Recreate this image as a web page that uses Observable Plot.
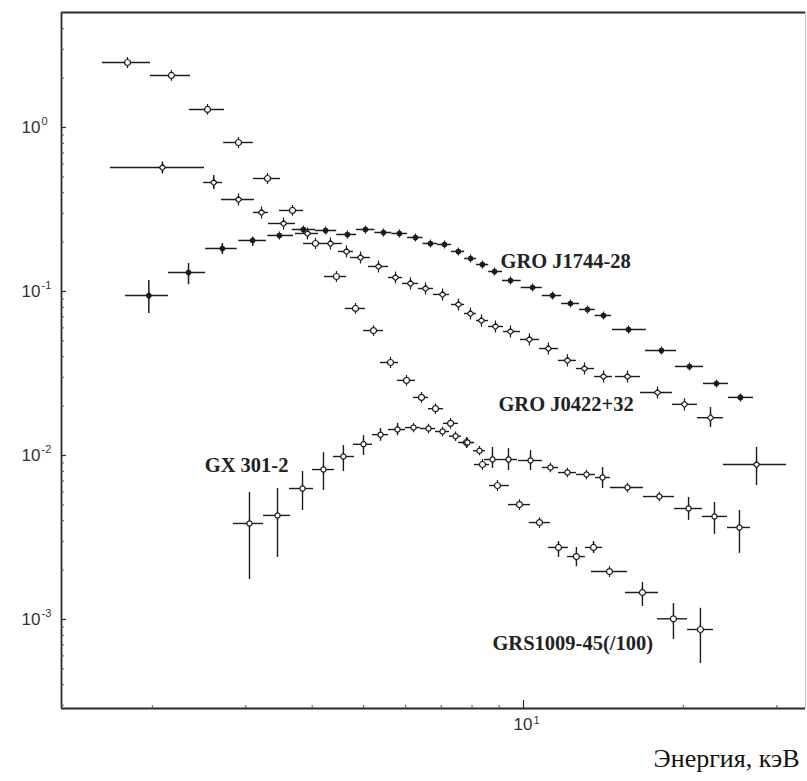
<!DOCTYPE html>
<html>
<head>
<meta charset="utf-8">
<script src="https://cdn.jsdelivr.net/npm/d3@7"></script>
<script src="https://cdn.jsdelivr.net/npm/@observablehq/plot@0.6"></script>
<style>
  html, body { margin: 0; padding: 0; background: #fff; overflow: hidden; }
  #chart svg { display: block; }
</style>
</head>
<body>
<div id="chart"></div>
<script>
// ---------- axis settings ----------
const xDomain = [1.349, 33.97];
const yDomain = [2.866e-4, 5.025];
const xMajorTicks = [10];
const xMajorExp = ["1"];
const xMinorTicks = [2, 3, 4, 5, 6, 7, 8, 9, 20, 30];
const yMajorTicks = [1, 0.1, 0.01, 0.001];
const yMajorExp = ["0", "-1", "-2", "-3"];
const yMinorTicks = [2, 3, 4, 5, 2e-1, 3e-1, 4e-1, 5e-1, 6e-1, 7e-1, 8e-1, 9e-1,
  2e-2, 3e-2, 4e-2, 5e-2, 6e-2, 7e-2, 8e-2, 9e-2, 2e-3, 3e-3, 4e-3, 5e-3, 6e-3, 7e-3, 8e-3, 9e-3,
  3e-4, 4e-4, 5e-4, 6e-4, 7e-4, 8e-4, 9e-4];
const xTitle = "Энергия, кэВ";

// ---------- series labels ----------
const labelNames = ["GRO J1744-28", "GRO J0422+32", "GX 301-2", "GRS1009-45(/100)"];
const labelE = [9.05, 8.97, 2.51, 8.74];
const labelF = [0.152, 0.0205, 0.00869, 0.000714];

// ---------- GRO J1744-28 (filled) ----------
const j1744E = [1.97, 2.34, 2.71, 3.09, 3.47, 3.85, 4.24, 4.66, 5.04, 5.45, 5.84, 6.26, 6.68, 7.10, 7.54, 7.95, 8.37, 8.82, 9.45, 10.4, 11.34, 12.26, 13.2, 14.15, 15.77, 18.19, 20.54, 23.09, 25.62];
const j1744F = [0.0945, 0.1306, 0.1829, 0.2047, 0.2196, 0.2388, 0.2355, 0.2227, 0.2388, 0.229, 0.2258, 0.2135, 0.1962, 0.1935, 0.1754, 0.1589, 0.1461, 0.1324, 0.1167, 0.1058, 0.0945, 0.0845, 0.0777, 0.0714, 0.0587, 0.0437, 0.0349, 0.0275, 0.0226];
const j1744ELo = [1.78, 2.145, 2.52, 2.91, 3.30, 3.67, 4.06, 4.45, 4.85, 5.25, 5.65, 6.05, 6.47, 6.89, 7.32, 7.75, 8.16, 8.60, 9.13, 9.9, 10.85, 11.8, 12.75, 13.65, 14.71, 16.97, 19.33, 21.83, 24.32];
const j1744EHi = [2.145, 2.52, 2.89, 3.28, 3.69, 4.06, 4.45, 4.85, 5.25, 5.65, 6.05, 6.47, 6.89, 7.32, 7.75, 8.16, 8.60, 9.13, 9.9, 10.85, 11.8, 12.75, 13.65, 14.65, 17.04, 19.42, 21.83, 24.32, 27.11];
const j1744FLo = [0.0734, 0.110, 0.168, 0.188, null, null, null, null, null, null, null, null, null, null, null, null, null, null, null, null, null, null, null, null, null, null, null, null, null];
const j1744FHi = [0.1167, 0.148, 0.196, 0.2135, null, null, null, null, null, null, null, null, null, null, null, null, null, null, null, null, null, null, null, null, null, null, null, null, null];

// ---------- GRO J0422+32 (open diamonds) ----------
const j0422E = [2.09, 2.61, 2.906, 3.211, 3.533, 3.92, 4.33, 4.642, 4.933, 5.333, 5.741, 6.127, 6.539, 7.04, 7.543, 7.946, 8.335, 8.856, 9.452, 10.26, 11.14, 12.10, 13.03, 14.15, 15.70, 17.88, 20.10, 22.50, 27.47];
const j0422F = [0.5703, 0.4620, 0.3639, 0.3032, 0.2598, 0.2258, 0.1962, 0.1754, 0.1611, 0.1421, 0.1217, 0.1120, 0.1043, 0.0959, 0.0833, 0.0734, 0.0665, 0.0612, 0.0570, 0.0510, 0.0449, 0.0380, 0.0339, 0.0303, 0.0303, 0.0242, 0.0205, 0.0170, 0.00881];
const j0422ELo = [1.668, 2.497, 2.700, 3.101, 3.310, 3.721, 4.183, 4.483, 4.723, 5.107, 5.570, 5.918, 6.343, 6.769, 7.320, 7.742, 8.156, 8.595, 9.170, 9.871, 10.72, 11.64, 12.58, 13.61, 14.90, 16.61, 19.08, 21.27, 23.80];
const j0422EHi = [2.508, 2.712, 3.115, 3.310, 3.721, 4.111, 4.560, 4.785, 5.151, 5.570, 5.918, 6.343, 6.769, 7.257, 7.742, 8.156, 8.595, 9.170, 9.871, 10.72, 11.64, 12.58, 13.61, 14.71, 16.61, 19.08, 21.27, 23.80, 31.28];
const j0422FLo = [0.5242, 0.4187, null, null, null, null, null, null, null, null, null, null, null, null, null, null, null, null, null, null, null, null, null, null, null, null, null, 0.0148, 0.00656];
const j0422FHi = [0.6116, 0.5097, null, null, null, null, null, null, null, null, null, null, null, null, null, null, null, null, null, null, null, null, null, null, null, null, null, 0.0196, 0.0112];

// ---------- GRS1009-45 (/100) (open circles) ----------
const grsE = [1.796, 2.173, 2.541, 2.906, 3.296, 3.673, 4.058, 4.444, 4.827, 5.219, 5.618, 6.022, 6.426, 6.828, 7.289, 7.810, 8.371, 8.933, 9.828, 10.72, 11.64, 12.58, 13.55, 14.52, 16.75, 19.16, 21.54];
const grsF = [2.490, 2.076, 1.288, 0.8100, 0.4887, 0.3119, 0.1962, 0.1234, 0.0788, 0.0578, 0.0369, 0.0287, 0.0226, 0.0193, 0.0157, 0.0120, 0.00881, 0.00656, 0.00502, 0.00390, 0.00275, 0.00242, 0.00275, 0.00196, 0.00146, 0.00101, 0.000869];
const grsELo = [1.611, 1.984, 2.350, 2.724, 3.101, 3.472, 3.853, 4.219, 4.619, 4.997, 5.380, 5.792, 6.208, 6.624, 7.071, 7.543, 8.085, 8.632, 9.370, 10.26, 11.14, 12.10, 13.08, 13.43, 15.56, 17.88, 20.37];
const grsEHi = [1.984, 2.360, 2.735, 3.101, 3.487, 3.853, 4.183, 4.642, 5.041, 5.450, 5.817, 6.261, 6.624, 7.071, 7.543, 8.085, 8.632, 9.411, 10.31, 11.24, 12.15, 13.08, 14.09, 15.70, 17.96, 20.37, 22.80];
const grsFLo = [null, null, null, null, null, null, null, null, null, null, null, null, null, null, null, null, null, null, null, null, 0.00239, 0.00210, 0.00253, null, 0.00120, 0.000755, 0.000539];
const grsFHi = [null, null, null, null, null, null, null, null, null, null, null, null, null, null, null, null, null, null, null, null, 0.00299, 0.00275, 0.00299, null, 0.00168, 0.00125, 0.00117];

// ---------- GX 301-2 (open circles, crosses) ----------
const gxE = [3.048, 3.442, 3.836, 4.201, 4.580, 4.997, 5.380, 5.792, 6.208, 6.624, 7.040, 7.449, 7.843, 8.263, 8.742, 9.370, 10.31, 11.24, 12.10, 13.14, 14.09, 15.70, 18.03, 20.46, 22.89, 25.51];
const gxF = [0.00385, 0.00431, 0.00629, 0.00821, 0.00986, 0.0117, 0.0134, 0.0144, 0.0148, 0.0146, 0.0140, 0.0131, 0.0120, 0.0107, 0.00945, 0.00945, 0.00932, 0.00845, 0.00787, 0.00766, 0.00734, 0.00638, 0.00562, 0.00475, 0.00425, 0.00364];
const gxELo = [2.844, 3.239, 3.626, 4.005, 4.387, 4.785, 5.196, 5.570, 5.995, 6.399, 6.828, 7.257, 7.641, 8.051, 8.444, 9.050, 9.785, 10.86, 11.64, 12.58, 13.67, 14.58, 16.83, 19.25, 21.73, 24.22];
const gxEHi = [3.239, 3.642, 4.023, 4.406, 4.806, 5.196, 5.570, 5.995, 6.399, 6.828, 7.257, 7.641, 8.051, 8.481, 9.050, 9.743, 10.86, 11.64, 12.58, 13.67, 14.58, 16.83, 19.25, 21.73, 24.22, 26.76];
const gxFLo = [0.00175, 0.00239, 0.00462, 0.00612, 0.00798, 0.0100, 0.0122, 0.0132, null, null, null, null, null, null, 0.00833, 0.00810, 0.00810, null, null, null, 0.00629, null, null, 0.00402, 0.00330, 0.00253];
const gxFHi = [0.00595, 0.00629, 0.00798, 0.0104, 0.0115, 0.0132, 0.0146, 0.0157, null, null, null, null, null, null, 0.0112, 0.0110, 0.0107, null, null, null, 0.00845, null, null, 0.00555, 0.00517, 0.00462];

// ---------- helpers ----------
function rows(E, F, ELo, EHi, FLo, FHi) {
  return E.map((e, i) => ({e, f: F[i], lo: ELo[i], hi: EHi[i], flo: FLo[i], fhi: FHi[i]}));
}
const j1744 = rows(j1744E, j1744F, j1744ELo, j1744EHi, j1744FLo, j1744FHi);
const j0422 = rows(j0422E, j0422F, j0422ELo, j0422EHi, j0422FLo, j0422FHi);
const grs = rows(grsE, grsF, grsELo, grsEHi, grsFLo, grsFHi);
const gx = rows(gxE, gxF, gxELo, gxEHi, gxFLo, gxFHi);

const ink = "#1c1c1c";
const stubDiamond = {
  draw(ctx, size) {
    const r = Math.sqrt(size / Math.PI), s = r * 0.9;
    ctx.moveTo(0, -r); ctx.lineTo(r, 0); ctx.lineTo(0, r); ctx.lineTo(-r, 0); ctx.closePath();
    ctx.moveTo(0, -r); ctx.lineTo(0, -r - s);
    ctx.moveTo(0, r); ctx.lineTo(0, r + s);
  }
};
const stubCircle = {
  draw(ctx, size) {
    const r = Math.sqrt(size / Math.PI), s = r * 0.8;
    ctx.moveTo(r, 0); ctx.arc(0, 0, r, 0, 2 * Math.PI); ctx.closePath();
    ctx.moveTo(0, -r); ctx.lineTo(0, -r - s);
    ctx.moveTo(0, r); ctx.lineTo(0, r + s);
  }
};

function seriesMarks(data, symbol, r, fill, sw) {
  return [
    Plot.ruleY(data, {y: "f", x1: "lo", x2: "hi", stroke: ink, strokeWidth: sw}),
    Plot.ruleX(data.filter(d => d.flo != null), {x: "e", y1: "flo", y2: "fhi", stroke: ink, strokeWidth: sw}),
    Plot.dot(data, {x: "e", y: "f", symbol, r, fill, stroke: ink, strokeWidth: 1.2})
  ];
}

const frameH = 781 - 12 - 73;
const frameW = 807 - 61 - 2;

const chart = Plot.plot({
  width: 807,
  height: 781,
  marginLeft: 61,
  marginRight: 2,
  marginTop: 12,
  marginBottom: 73,
  style: {background: "#fff", fontFamily: "'Liberation Sans', Arial, sans-serif"},
  x: {type: "log", domain: xDomain, axis: null},
  y: {type: "log", domain: yDomain, axis: null},
  marks: [
    // frame
    Plot.ruleY([yDomain[1]], {stroke: "#2a2a2a", strokeWidth: 1.8}),
    Plot.ruleY([yDomain[0]], {stroke: "#2a2a2a", strokeWidth: 1.8}),
    Plot.ruleX([xDomain[0]], {stroke: "#2a2a2a", strokeWidth: 1.8}),
    Plot.ruleX([xDomain[1]], {stroke: "#bbbbbb", strokeWidth: 1}),
    // inward ticks
    Plot.ruleX(xMajorTicks, {x: d => d, insetTop: frameH - 8, stroke: "#2a2a2a", strokeWidth: 1.2}),
    Plot.ruleX(xMinorTicks, {x: d => d, insetTop: frameH - 3, stroke: "#555", strokeWidth: 1}),
    Plot.ruleY(yMajorTicks, {y: d => d, insetRight: frameW - 5, stroke: "#2a2a2a", strokeWidth: 1.2}),
    Plot.ruleY(yMinorTicks, {y: d => d, insetRight: frameW - 3, stroke: "#555", strokeWidth: 1}),
    // tick labels
    Plot.text(yMajorTicks, {y: d => d, frameAnchor: "left", text: () => "10", textAnchor: "end", dx: -21, fontSize: 17, fill: "#333"}),
    Plot.text(yMajorTicks, {y: d => d, frameAnchor: "left", text: (d, i) => yMajorExp[i], textAnchor: "start", dx: -20, dy: -6, fontSize: 11, fill: "#333"}),
    Plot.text(xMajorTicks, {x: d => d, frameAnchor: "bottom", text: () => "10", textAnchor: "end", dx: 9, dy: 21, fontSize: 17, fill: "#333"}),
    Plot.text(xMajorTicks, {x: d => d, frameAnchor: "bottom", text: (d, i) => xMajorExp[i], textAnchor: "start", dx: 10, dy: 15, fontSize: 11, fill: "#333"}),
    // axis title (kept fully inside the picture)
    Plot.text([xTitle], {frameAnchor: "bottom-right", text: d => d, textAnchor: "end", dx: -6, dy: 58, fontSize: 26, fontFamily: "'Liberation Serif', 'Times New Roman', serif", fill: "#111"}),
    // data
    ...seriesMarks(grs, stubCircle, 3, "#fff", 1.4),
    ...seriesMarks(j0422, stubDiamond, 3.2, "#fff", 1.4),
    ...seriesMarks(gx, stubCircle, 2.6, "#fff", 1.4),
    ...seriesMarks(j1744, stubCircle, 2.2, ink, 1.5),
    // series labels
    Plot.text(labelNames, {x: (d, i) => labelE[i], y: (d, i) => labelF[i], text: d => d, textAnchor: "start",
      fontSize: 20.5, fontWeight: "bold", fontFamily: "'Liberation Serif', 'Times New Roman', serif", fill: "#222"})
  ]
});
document.getElementById("chart").appendChild(chart);
</script>
</body>
</html>
